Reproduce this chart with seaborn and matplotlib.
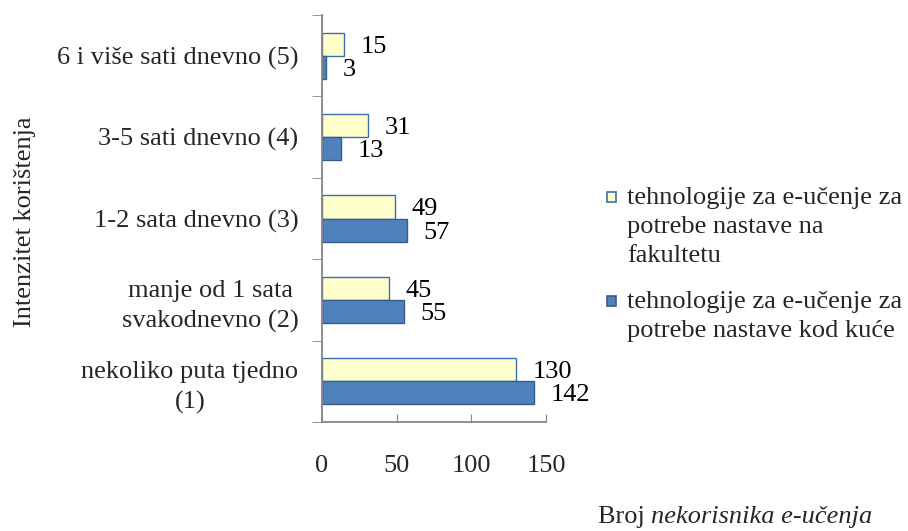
import matplotlib
matplotlib.use("Agg")
import matplotlib.pyplot as plt
from matplotlib.patches import Rectangle
from matplotlib.ticker import FixedLocator
import seaborn as sns
import pandas as pd

categories = [
    "6 i više sati dnevno (5)",
    "3-5 sati dnevno (4)",
    "1-2 sata dnevno (3)",
    "manje od 1 sata\nsvakodnevno (2)",
    "nekoliko puta tjedno\n(1)",
]
series_names = [
    "tehnologije za e-učenje za\npotrebe nastave na\nfakultetu",
    "tehnologije za e-učenje za\npotrebe nastave kod kuće",
]
fakultet = [15, 31, 49, 45, 130]
kuca = [3, 13, 57, 55, 142]
x_ticks = [0, 50, 100, 150]

fills = ["#FFFFCC", "#4F81BD"]
edges = ["#3D6FA8", "#385D8A"]
FS = 19
LS = 1.42

df = pd.DataFrame({
    "kategorija": categories * 2,
    "serija": [series_names[0]] * len(categories) + [series_names[1]] * len(categories),
    "broj": fakultet + kuca,
})

sns.set_style("white")
plt.rcParams["font.family"] = ["Liberation Serif", "DejaVu Serif"]

fig = plt.figure(figsize=(9.08, 5.31), dpi=100)
ax = fig.add_axes([322 / 908, 1 - 422 / 531, 224 / 908, 407 / 531])

sns.barplot(data=df, y="kategorija", x="broj", hue="serija", order=categories,
            hue_order=series_names, palette=fills, saturation=1, orient="h",
            width=0.57, legend=False, ax=ax)

for container, ec, vals in zip(ax.containers, edges, [fakultet, kuca]):
    for bar in container:
        bar.set_edgecolor(ec)
        bar.set_linewidth(1.0)
    texts = ax.bar_label(container, labels=[str(v) for v in vals], padding=12,
                         fontsize=FS, color="black")
    for t in texts:
        t.set_va("center_baseline")

ax.set_xlim(0, 150)
ax.set_ylim(len(categories) - 0.5, -0.5)
ax.set_xticks(x_ticks)
ax.set_xticklabels([str(t) for t in x_ticks], fontsize=FS)
ax.tick_params(axis="x", direction="in", length=6, pad=24, color="#868686", bottom=True)
ax.yaxis.set_minor_locator(FixedLocator([i - 0.5 for i in range(len(categories) + 1)]))
ax.tick_params(axis="y", which="minor", direction="out", length=7, color="#868686", left=True)
ax.tick_params(axis="y", which="major", length=0, pad=17)
ax.set_yticklabels(categories, fontsize=FS, multialignment="center", linespacing=LS)
ax.set_xlabel("")
ax.set_ylabel("")

for side in ["top", "right"]:
    ax.spines[side].set_visible(False)
for side in ["left", "bottom"]:
    ax.spines[side].set_color("#868686")
    ax.spines[side].set_linewidth(1.3)

fig.text(25 / 908, 1 - 222 / 531, "Intenzitet korištenja", rotation=90,
         ha="center", va="center", fontsize=FS)

t1 = fig.text(598 / 908, 1 - 517 / 531, "Broj ", ha="left", va="center", fontsize=FS)
ax.annotate("nekorisnika e-učenja", xy=(1, 0.5), xycoords=t1, ha="left", va="center",
            fontsize=FS, style="italic", annotation_clip=False)

# legend drawn as figure-level patches and text
legend_y = [197, 301]
for name, fc, ec, ly in zip(series_names, fills, edges, legend_y):
    fig.patches.append(Rectangle((607 / 908, 1 - (ly + 5) / 531), 9 / 908, 10 / 531,
                                 facecolor=fc, edgecolor=ec, linewidth=1.2,
                                 transform=fig.transFigure, figure=fig))
    fig.text(627 / 908, 1 - (ly - 10) / 531, name, ha="left", va="top",
             fontsize=FS, linespacing=LS)

fig.savefig("out.png", dpi=100)
